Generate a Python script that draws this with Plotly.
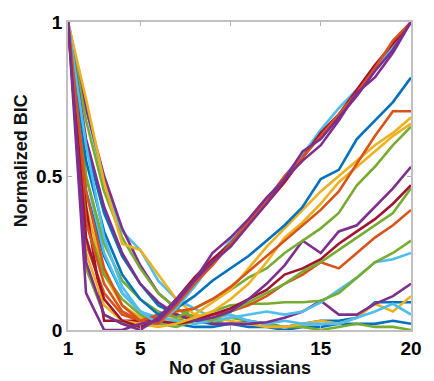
import plotly.graph_objects as go

x_vals = list(range(1, 21))

B = '#0072BD'; O = '#D95319'; Y = '#EDB120'; P = '#7E2F8E'; G = '#77AC30'; C = '#4DBEEE'; R = '#A2142F'

s1 = [1, 0.60, 0.38, 0.24, 0.15, 0.08, 0.05, 0.03, 0.02, 0.02, 0.03, 0.02, 0.01, 0.02, 0.03, 0.03, 0.04, 0.09, 0.09, 0.09]
s2 = [1, 0.45, 0.24, 0.12, 0.06, 0.03, 0.02, 0.01, 0.01, 0.02, 0.01, 0.01, 0.00, 0.01, 0.01, 0.02, 0.02, 0.02, 0.03, 0.02]
s3 = [1, 0.20, 0.05, 0.02, 0.01, 0.02, 0.03, 0.05, 0.02, 0.04, 0.03, 0.02, 0.01, 0.01, 0.00, 0.01, 0.02, 0.01, 0.01, 0.00]
s4 = [1, 0.40, 0.18, 0.08, 0.04, 0.03, 0.04, 0.05, 0.04, 0.03, 0.02, 0.01, 0.01, 0.02, 0.03, 0.02, 0.04, 0.085, 0.06, 0.11]
s5 = [1, 0.72, 0.48, 0.32, 0.26, 0.16, 0.10, 0.07, 0.04, 0.05, 0.03, 0.02, 0.03, 0.02, 0.02, 0.02, 0.04, 0.06, 0.085, 0.05]
s6 = [1, 0.72, 0.50, 0.33, 0.21, 0.12, 0.07, 0.04, 0.02, 0.02, 0.02, 0.025, 0.04, 0.06, 0.095, 0.05, 0.05, 0.085, 0.11, 0.15]
s7 = [1, 0.50, 0.25, 0.12, 0.06, 0.04, 0.03, 0.02, 0.03, 0.04, 0.05, 0.06, 0.05, 0.06, 0.09, 0.13, 0.17, 0.22, 0.23, 0.25]
s8 = [1, 0.35, 0.18, 0.10, 0.05, 0.02, 0.01, 0.03, 0.06, 0.08, 0.085, 0.085, 0.09, 0.09, 0.095, 0.12, 0.17, 0.22, 0.25, 0.29]
s9 = [1, 0.28, 0.12, 0.05, 0.03, 0.04, 0.05, 0.04, 0.05, 0.06, 0.08, 0.11, 0.15, 0.18, 0.22, 0.20, 0.25, 0.30, 0.34, 0.39]
s10 = [1, 0.68, 0.45, 0.30, 0.20, 0.12, 0.07, 0.04, 0.03, 0.06, 0.09, 0.12, 0.15, 0.19, 0.22, 0.26, 0.30, 0.34, 0.38, 0.46]
s11 = [1, 0.40, 0.03, 0.03, 0.03, 0.03, 0.02, 0.03, 0.05, 0.07, 0.10, 0.13, 0.18, 0.20, 0.23, 0.28, 0.32, 0.36, 0.41, 0.47]
s12 = [1, 0.62, 0.40, 0.25, 0.15, 0.09, 0.05, 0.03, 0.04, 0.06, 0.10, 0.15, 0.21, 0.29, 0.25, 0.32, 0.34, 0.40, 0.46, 0.53]
s13 = [1, 0.50, 0.28, 0.16, 0.10, 0.06, 0.04, 0.07, 0.10, 0.13, 0.17, 0.20, 0.25, 0.29, 0.33, 0.38, 0.47, 0.53, 0.60, 0.66]
s14 = [1, 0.25, 0.08, 0.03, 0.02, 0.01, 0.02, 0.04, 0.06, 0.10, 0.15, 0.22, 0.30, 0.35, 0.41, 0.48, 0.53, 0.58, 0.63, 0.67]
s15 = [1, 0.75, 0.48, 0.28, 0.26, 0.18, 0.10, 0.05, 0.09, 0.13, 0.20, 0.27, 0.33, 0.39, 0.45, 0.50, 0.55, 0.60, 0.64, 0.69]
s16 = [1, 0.35, 0.15, 0.06, 0.03, 0.05, 0.06, 0.07, 0.10, 0.14, 0.19, 0.24, 0.29, 0.34, 0.39, 0.45, 0.54, 0.63, 0.71, 0.71]
s17 = [1, 0.55, 0.32, 0.18, 0.10, 0.05, 0.07, 0.11, 0.16, 0.20, 0.24, 0.29, 0.34, 0.40, 0.49, 0.52, 0.62, 0.68, 0.74, 0.82]
s18 = [1, 0.60, 0.30, 0.14, 0.06, 0.02, 0.07, 0.14, 0.22, 0.29, 0.35, 0.42, 0.50, 0.57, 0.65, 0.72, 0.78, 0.85, 0.92, 1.0]
s19 = [1, 0.30, 0.10, 0.03, 0.01, 0.03, 0.10, 0.17, 0.23, 0.28, 0.35, 0.41, 0.48, 0.56, 0.64, 0.70, 0.78, 0.86, 0.93, 1.0]
s20 = [1, 0.45, 0.20, 0.08, 0.03, 0.02, 0.08, 0.15, 0.21, 0.28, 0.35, 0.42, 0.50, 0.56, 0.63, 0.70, 0.77, 0.85, 0.94, 1.0]
s21 = [1, 0.12, 0.00, 0.00, 0.02, 0.03, 0.09, 0.16, 0.22, 0.27, 0.34, 0.41, 0.49, 0.58, 0.62, 0.69, 0.76, 0.84, 0.91, 1.0]
s22 = [1, 0.22, 0.05, 0.02, 0.00, 0.04, 0.10, 0.16, 0.25, 0.30, 0.36, 0.43, 0.49, 0.55, 0.60, 0.68, 0.77, 0.82, 0.90, 1.0]

all_series = [s1, s2, s3, s4, s5, s6, s7, s8, s9, s10, s11, s12, s13, s14, s15, s16, s17, s18, s19, s20, s21, s22]
colors = [B, B, G, Y, C, P, C, G, O, G, R, P, G, Y, Y, O, B, C, R, O, P, P]

x_ticks = [1, 5, 10, 15, 20]
y_ticks = [0, 0.5, 1]
y_tick_text = ["0", "0.5", "1"]
x_title = "No of Gaussians"
y_title = "Normalized BIC"

fig = go.Figure()
for ys, col in zip(all_series, colors):
    fig.add_trace(go.Scatter(x=x_vals, y=ys, mode='lines',
                             line=dict(color=col, width=2.6), showlegend=False))

tick_font = dict(family="Liberation Sans, Arial, sans-serif", size=19, color="black", weight="bold")
title_font = dict(family="Liberation Sans, Arial, sans-serif", size=18, color="#111111", weight="bold")

fig.update_layout(
    width=434, height=381,
    margin=dict(l=68, r=13, t=15, b=51),
    paper_bgcolor='white', plot_bgcolor='white',
    xaxis=dict(range=[1, 20], tickvals=x_ticks, ticks='inside', ticklen=4, tickcolor='#b0b0b0',
               showline=True, linecolor='#c0c0c0', linewidth=1.5, mirror='ticks',
               showgrid=False, zeroline=False, tickfont=tick_font),
    yaxis=dict(range=[0, 1], tickvals=y_ticks, ticktext=y_tick_text, ticks='inside', ticklen=4,
               tickcolor='#b0b0b0', showline=True, linecolor='#c0c0c0', linewidth=1.5, mirror='ticks',
               showgrid=False, zeroline=False, tickfont=tick_font),
    annotations=[
        dict(text=x_title, xref='paper', yref='paper', x=0.5, y=-0.124,
             xanchor='center', yanchor='middle', showarrow=False, font=title_font),
        dict(text=y_title, xref='paper', yref='paper', x=-0.136, y=0.549, textangle=-90,
             xanchor='center', yanchor='middle', showarrow=False, font=title_font),
    ],
)

fig.write_html("out.html")
